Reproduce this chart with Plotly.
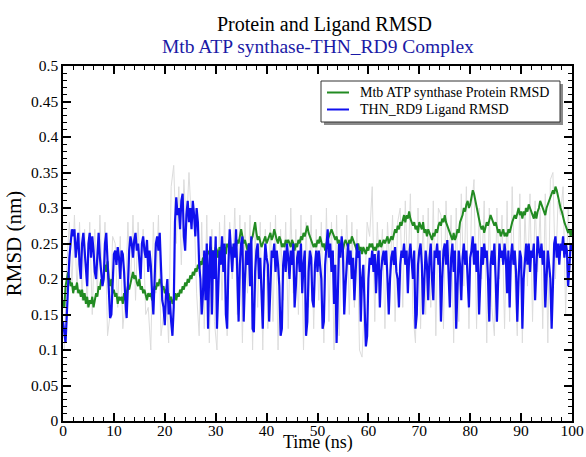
import numpy as np
import plotly.graph_objects as go

# ---- data ----
time = np.arange(0, 100.001, 0.25)          # ns, sampling of the two RMSD traces
time_raw = np.arange(0.25, 100.0, 0.5)      # ns, sampling of the raw (grey) trace

protein_rmsd = [0.17,
    0.16, 0.19, 0.2, 0.21, 0.2, 0.19, 0.195, 0.18, 0.19, 0.185, 0.195, 0.18, 0.185, 0.175, 0.185, 0.17, 0.18, 0.165, 0.175, 0.16,
    0.17, 0.165, 0.175, 0.16, 0.17, 0.18, 0.175, 0.19, 0.185, 0.2, 0.195, 0.21, 0.22, 0.21, 0.225, 0.2, 0.19, 0.2, 0.18, 0.185,
    0.175, 0.18, 0.165, 0.175, 0.17, 0.175, 0.165, 0.18, 0.17, 0.18, 0.19, 0.185, 0.195, 0.2, 0.21, 0.2, 0.205, 0.195, 0.19, 0.2,
    0.185, 0.19, 0.18, 0.185, 0.175, 0.17, 0.18, 0.175, 0.18, 0.17, 0.18, 0.19, 0.185, 0.195, 0.19, 0.2, 0.195, 0.185, 0.19, 0.18,
    0.185, 0.175, 0.18, 0.17, 0.175, 0.165, 0.17, 0.18, 0.17, 0.18, 0.175, 0.185, 0.18, 0.19, 0.185, 0.195, 0.19, 0.2, 0.195, 0.205,
    0.2, 0.21, 0.205, 0.215, 0.21, 0.22, 0.215, 0.225, 0.22, 0.23, 0.225, 0.235, 0.23, 0.24, 0.235, 0.245, 0.235, 0.24, 0.23, 0.245,
    0.24, 0.23, 0.245, 0.235, 0.25, 0.24, 0.245, 0.235, 0.25, 0.245, 0.255, 0.24, 0.245, 0.235, 0.25, 0.245, 0.255, 0.25, 0.26, 0.27,
    0.26, 0.25, 0.255, 0.245, 0.24, 0.25, 0.245, 0.255, 0.26, 0.27, 0.28, 0.265, 0.255, 0.26, 0.25, 0.245, 0.25, 0.255, 0.26, 0.25,
    0.255, 0.26, 0.265, 0.255, 0.26, 0.27, 0.26, 0.255, 0.25, 0.26, 0.255, 0.245, 0.25, 0.245, 0.255, 0.25, 0.255, 0.25, 0.245, 0.255,
    0.25, 0.24, 0.25, 0.245, 0.255, 0.25, 0.26, 0.255, 0.265, 0.26, 0.27, 0.275, 0.265, 0.26, 0.255, 0.25, 0.245, 0.25, 0.245, 0.255,
    0.25, 0.26, 0.25, 0.245, 0.25, 0.24, 0.25, 0.255, 0.26, 0.265, 0.27, 0.265, 0.26, 0.255, 0.26, 0.25, 0.255, 0.245, 0.25, 0.24,
    0.25, 0.255, 0.25, 0.245, 0.255, 0.25, 0.26, 0.255, 0.25, 0.245, 0.24, 0.25, 0.24, 0.245, 0.235, 0.245, 0.24, 0.235, 0.245, 0.24,
    0.25, 0.245, 0.25, 0.24, 0.245, 0.24, 0.25, 0.245, 0.255, 0.245, 0.25, 0.255, 0.25, 0.255, 0.26, 0.25, 0.255, 0.26, 0.255, 0.265,
    0.27, 0.265, 0.275, 0.27, 0.28, 0.275, 0.285, 0.29, 0.28, 0.29, 0.285, 0.295, 0.285, 0.28, 0.275, 0.28, 0.27, 0.275, 0.265, 0.28,
    0.275, 0.27, 0.28, 0.265, 0.27, 0.26, 0.27, 0.265, 0.26, 0.255, 0.265, 0.26, 0.27, 0.265, 0.275, 0.28, 0.275, 0.285, 0.28, 0.29,
    0.28, 0.275, 0.27, 0.265, 0.26, 0.255, 0.265, 0.255, 0.26, 0.27, 0.265, 0.28, 0.285, 0.29, 0.3, 0.295, 0.305, 0.31, 0.3, 0.305,
    0.315, 0.325, 0.32, 0.31, 0.3, 0.29, 0.28, 0.275, 0.27, 0.275, 0.265, 0.275, 0.28, 0.275, 0.285, 0.29, 0.285, 0.28, 0.275, 0.28,
    0.27, 0.265, 0.27, 0.26, 0.265, 0.27, 0.26, 0.265, 0.26, 0.27, 0.265, 0.275, 0.28, 0.285, 0.29, 0.285, 0.295, 0.3, 0.29, 0.295,
    0.285, 0.295, 0.29, 0.3, 0.295, 0.305, 0.3, 0.295, 0.29, 0.285, 0.295, 0.285, 0.295, 0.3, 0.31, 0.305, 0.3, 0.295, 0.29, 0.3,
    0.305, 0.31, 0.315, 0.32, 0.325, 0.32, 0.33, 0.325, 0.315, 0.305, 0.3, 0.295, 0.285, 0.28, 0.275, 0.27, 0.265, 0.27, 0.26, 0.27,
]

ligand_rmsd = [0.14,
    0.12, 0.11, 0.15, 0.2, 0.23, 0.25, 0.27, 0.26, 0.27, 0.23, 0.25, 0.265, 0.22, 0.2, 0.25, 0.265, 0.24, 0.21, 0.19, 0.25,
    0.265, 0.23, 0.26, 0.24, 0.21, 0.2, 0.24, 0.265, 0.23, 0.21, 0.19, 0.2, 0.25, 0.265, 0.22, 0.17, 0.145, 0.15, 0.19, 0.235,
    0.24, 0.22, 0.245, 0.23, 0.2, 0.24, 0.235, 0.21, 0.17, 0.145, 0.19, 0.24, 0.26, 0.25, 0.23, 0.255, 0.265, 0.24, 0.25, 0.22,
    0.2, 0.25, 0.26, 0.24, 0.23, 0.255, 0.21, 0.24, 0.22, 0.18, 0.15, 0.2, 0.25, 0.26, 0.24, 0.265, 0.2, 0.17, 0.16, 0.135,
    0.18, 0.2, 0.15, 0.17, 0.14, 0.12, 0.16, 0.28, 0.315, 0.29, 0.3, 0.27, 0.31, 0.32, 0.26, 0.24, 0.29, 0.31, 0.28, 0.3,
    0.27, 0.31, 0.29, 0.26, 0.3, 0.28, 0.22, 0.2, 0.15, 0.18, 0.24, 0.17, 0.25, 0.13, 0.22, 0.26, 0.15, 0.24, 0.2, 0.26,
    0.13, 0.2, 0.24, 0.22, 0.26, 0.21, 0.25, 0.15, 0.13, 0.22, 0.27, 0.24, 0.21, 0.25, 0.23, 0.27, 0.18, 0.14, 0.22, 0.25,
    0.26, 0.14, 0.2, 0.24, 0.22, 0.25, 0.19, 0.26, 0.13, 0.125, 0.21, 0.24, 0.25, 0.2, 0.23, 0.17, 0.13, 0.21, 0.25, 0.23,
    0.22, 0.14, 0.2, 0.24, 0.23, 0.25, 0.21, 0.24, 0.22, 0.19, 0.12, 0.13, 0.22, 0.24, 0.21, 0.25, 0.23, 0.2, 0.24, 0.22,
    0.25, 0.16, 0.19, 0.23, 0.24, 0.21, 0.25, 0.18, 0.22, 0.24, 0.12, 0.14, 0.21, 0.24, 0.23, 0.17, 0.16, 0.22, 0.24, 0.21,
    0.24, 0.22, 0.2, 0.13, 0.14, 0.22, 0.25, 0.27, 0.23, 0.25, 0.21, 0.24, 0.165, 0.22, 0.11, 0.2, 0.25, 0.23, 0.26, 0.24,
    0.15, 0.19, 0.23, 0.25, 0.22, 0.24, 0.2, 0.23, 0.17, 0.22, 0.25, 0.23, 0.24, 0.14, 0.2, 0.22, 0.16, 0.105, 0.12, 0.2,
    0.23, 0.22, 0.24, 0.21, 0.235, 0.18, 0.22, 0.24, 0.16, 0.21, 0.23, 0.24, 0.22, 0.24, 0.2, 0.15, 0.2, 0.23, 0.24, 0.22,
    0.245, 0.21, 0.2, 0.16, 0.22, 0.24, 0.23, 0.25, 0.22, 0.24, 0.18, 0.23, 0.25, 0.22, 0.2, 0.24, 0.13, 0.15, 0.22, 0.24,
    0.25, 0.22, 0.15, 0.2, 0.24, 0.22, 0.17, 0.23, 0.25, 0.2, 0.17, 0.24, 0.23, 0.25, 0.22, 0.24, 0.14, 0.2, 0.24, 0.25,
    0.22, 0.255, 0.2, 0.16, 0.23, 0.25, 0.21, 0.24, 0.13, 0.18, 0.24, 0.22, 0.17, 0.23, 0.25, 0.22, 0.24, 0.2, 0.16, 0.23,
    0.24, 0.26, 0.22, 0.25, 0.21, 0.24, 0.15, 0.2, 0.245, 0.22, 0.25, 0.23, 0.24, 0.2, 0.14, 0.22, 0.24, 0.22, 0.25, 0.2,
    0.14, 0.2, 0.25, 0.23, 0.24, 0.22, 0.25, 0.23, 0.18, 0.24, 0.16, 0.23, 0.25, 0.22, 0.24, 0.21, 0.14, 0.2, 0.24, 0.23,
    0.13, 0.2, 0.23, 0.25, 0.22, 0.25, 0.21, 0.24, 0.23, 0.25, 0.17, 0.22, 0.26, 0.24, 0.23, 0.25, 0.22, 0.24, 0.16, 0.2,
    0.24, 0.22, 0.2, 0.13, 0.2, 0.25, 0.26, 0.23, 0.25, 0.22, 0.25, 0.24, 0.26, 0.23, 0.25, 0.24, 0.19, 0.22, 0.25, 0.24,
]

raw_rmsd = [
    0.1, 0.22, 0.28, 0.19, 0.29, 0.18, 0.28, 0.17, 0.27, 0.16, 0.28, 0.15, 0.27, 0.18, 0.29, 0.19, 0.28, 0.12, 0.15, 0.26,
    0.25, 0.16, 0.26, 0.13, 0.17, 0.28, 0.19, 0.29, 0.17, 0.28, 0.2, 0.27, 0.15, 0.16, 0.1, 0.28, 0.18, 0.29, 0.12, 0.15,
    0.19, 0.11, 0.33, 0.36, 0.25, 0.33, 0.22, 0.34, 0.27, 0.35, 0.28, 0.3, 0.18, 0.12, 0.28, 0.13, 0.29, 0.11, 0.27, 0.14,
    0.1, 0.28, 0.17, 0.29, 0.12, 0.28, 0.2, 0.3, 0.15, 0.29, 0.11, 0.28, 0.18, 0.29, 0.1, 0.27, 0.16, 0.28, 0.1, 0.27,
    0.13, 0.28, 0.14, 0.29, 0.1, 0.27, 0.17, 0.28, 0.13, 0.3, 0.18, 0.27, 0.15, 0.29, 0.1, 0.28, 0.16, 0.29, 0.13, 0.27,
    0.17, 0.28, 0.11, 0.3, 0.14, 0.28, 0.1, 0.29, 0.12, 0.27, 0.18, 0.29, 0.15, 0.28, 0.16, 0.27, 0.1, 0.09, 0.17, 0.28,
    0.26, 0.33, 0.14, 0.28, 0.2, 0.27, 0.13, 0.28, 0.21, 0.29, 0.14, 0.28, 0.3, 0.16, 0.31, 0.2, 0.32, 0.15, 0.11, 0.3,
    0.13, 0.29, 0.15, 0.3, 0.16, 0.31, 0.12, 0.3, 0.29, 0.13, 0.31, 0.21, 0.29, 0.11, 0.3, 0.14, 0.32, 0.19, 0.33, 0.13,
    0.3, 0.34, 0.13, 0.3, 0.2, 0.31, 0.11, 0.3, 0.16, 0.12, 0.3, 0.2, 0.29, 0.13, 0.31, 0.14, 0.33, 0.2, 0.12, 0.32,
    0.11, 0.3, 0.19, 0.32, 0.14, 0.31, 0.21, 0.3, 0.13, 0.32, 0.11, 0.34, 0.35, 0.2, 0.31, 0.29, 0.33, 0.15, 0.3, 0.21,
]

series_names = ["Mtb ATP synthase Protein RMSD", "THN_RD9 Ligand RMSD"]
title_text = "Protein and Ligand RMSD"
subtitle_text = "Mtb ATP synthase-THN_RD9 Complex"

GREEN = "#228b22"
BLUE = "#1010ee"
SERIF = "Liberation Serif"

fig = go.Figure()
fig.add_trace(go.Scatter(x=time_raw, y=raw_rmsd, mode="lines", name="raw",
                         line=dict(color="#dcdcdc", width=1), showlegend=False, hoverinfo="skip"))
fig.add_trace(go.Scatter(x=time, y=protein_rmsd, mode="lines", name=series_names[0],
                         line=dict(color=GREEN, width=2)))
fig.add_trace(go.Scatter(x=time, y=ligand_rmsd, mode="lines", name=series_names[1],
                         line=dict(color=BLUE, width=2.2)))

axis_common = dict(
    showline=True, linecolor="black", linewidth=1.5, mirror="allticks",
    ticks="inside", ticklen=8, tickwidth=1.5, tickcolor="black",
    showgrid=False, zeroline=False, automargin=False,
    tickfont=dict(family=SERIF, size=15.5, color="black"),
)

fig.update_xaxes(range=[0, 100], dtick=10, tick0=0, ticklabelstandoff=-5,
                 minor=dict(ticks="inside", dtick=2, ticklen=4, tickwidth=1, tickcolor="black", showgrid=False),
                 **axis_common)
fig.update_yaxes(range=[0, 0.5], dtick=0.05, tick0=0,
                 minor=dict(ticks="inside", dtick=0.01, ticklen=4, tickwidth=1, tickcolor="black", showgrid=False),
                 title=dict(text="RMSD (nm)", font=dict(family=SERIF, size=21, color="black"), standoff=4),
                 **axis_common)

# manual legend (box with drop shadow, short line samples)
W_PLOT, H_PLOT, L, T = 509, 355, 63, 66
def px_x(p):
    return (p - L) / W_PLOT
def px_y(p):
    return (T + H_PLOT - p) / H_PLOT

shapes = [
    dict(type="rect", xref="paper", yref="paper", x0=px_x(324), x1=px_x(563), y0=px_y(125), y1=px_y(84),
         line=dict(width=0), fillcolor="#8a8a8a", layer="above"),
    dict(type="rect", xref="paper", yref="paper", x0=px_x(321), x1=px_x(560), y0=px_y(122), y1=px_y(81),
         line=dict(color="#333333", width=1), fillcolor="white", layer="above"),
    dict(type="line", xref="paper", yref="paper", x0=px_x(327), x1=px_x(349), y0=px_y(92.5), y1=px_y(92.5),
         line=dict(color=GREEN, width=2), layer="above"),
    dict(type="line", xref="paper", yref="paper", x0=px_x(327), x1=px_x(349), y0=px_y(109.5), y1=px_y(109.5),
         line=dict(color=BLUE, width=2), layer="above"),
]
annotations = [
    dict(text=series_names[0], xref="paper", yref="paper", x=px_x(358), y=px_y(92.5),
         xanchor="left", yanchor="middle", showarrow=False, font=dict(family=SERIF, size=14, color="black")),
    dict(text=series_names[1], xref="paper", yref="paper", x=px_x(358), y=px_y(109.5),
         xanchor="left", yanchor="middle", showarrow=False, font=dict(family=SERIF, size=14, color="black")),
    dict(text=title_text, xref="paper", yref="paper", x=px_x(324), y=px_y(25),
         xanchor="center", yanchor="middle", showarrow=False, font=dict(family=SERIF, size=20, color="black")),
    dict(text=subtitle_text, xref="paper", yref="paper", x=px_x(318), y=px_y(46),
         xanchor="center", yanchor="middle", showarrow=False, font=dict(family=SERIF, size=19.5, color="#1a1aa6")),
    dict(text="Time (ns)", xref="paper", yref="paper", x=px_x(318), y=px_y(443),
         xanchor="center", yanchor="middle", showarrow=False, font=dict(family=SERIF, size=18, color="black")),
]

fig.update_layout(
    width=586, height=457,
    margin=dict(l=L, r=586 - L - W_PLOT, t=T, b=457 - T - H_PLOT),
    paper_bgcolor="white", plot_bgcolor="white",
    showlegend=False,
    shapes=shapes, annotations=annotations,
    font=dict(family=SERIF, color="black"),
)

fig.write_html("out.html", config={"displayModeBar": False},
               post_script="document.body.style.margin='0px';document.body.style.overflow='hidden';")
